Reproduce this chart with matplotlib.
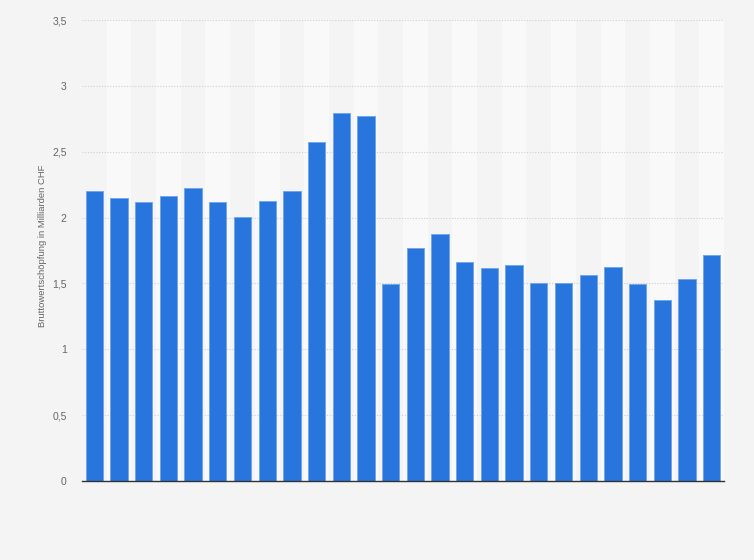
import matplotlib.pyplot as plt
from matplotlib.ticker import FuncFormatter

plt.rcParams['font.family'] = ['Liberation Sans', 'DejaVu Sans']

# Bruttowertschoepfung, Mrd. CHF (26 Jahre, ohne Achsenbeschriftung)
bar_idx = list(range(26))
values = [2.20, 2.146, 2.116, 2.162, 2.222, 2.116, 2.002, 2.124, 2.20, 2.572,
          2.792, 2.769, 1.494, 1.767, 1.873, 1.661, 1.615, 1.638, 1.501, 1.501,
          1.562, 1.623, 1.494, 1.372, 1.532, 1.714]
y_ticks = [0, 0.5, 1, 1.5, 2, 2.5, 3, 3.5]

bg = '#f4f4f4'
fig = plt.figure(figsize=(7.54, 5.6), dpi=100, facecolor=bg)
ax = fig.add_axes([82 / 754, 1 - 481 / 560, (724 - 82) / 754, (481 - 20) / 560])
ax.set_facecolor(bg)

# alternating column bands
for i in bar_idx:
    if i % 2 == 1:
        ax.axvspan(i - 0.5, i + 0.5, color='#f9f9f9', zorder=0, lw=0)

for t in y_ticks[1:]:
    ax.axhline(t, color='#d0d0d0', lw=0.8, ls=(0, (1, 1.5)), zorder=1)

ax.bar(bar_idx, values, width=0.7, color='#2876dd', edgecolor='#6ea4ea',
       linewidth=0.6, zorder=2)

ax.set_xlim(-0.5, 25.5)
ax.set_ylim(0, 3.5)
ax.set_yticks(y_ticks)
ax.yaxis.set_major_formatter(FuncFormatter(lambda v, p: ('%g' % v).replace('.', ',')))
ax.set_xticks([])
ax.tick_params(axis='y', length=0, labelsize=7.5, labelcolor='#666666', pad=11)

for s in ['top', 'right', 'left']:
    ax.spines[s].set_visible(False)
ax.spines['bottom'].set_color('#333333')
ax.spines['bottom'].set_linewidth(1.0)
ax.spines['bottom'].set_zorder(3)

ax.set_ylabel('Bruttowertschöpfung in Milliarden CHF', fontsize=6.8, color='#666666')
ax.yaxis.set_label_coords(-0.055, 0.51)

fig.savefig('out.png', dpi=100, facecolor=bg)
